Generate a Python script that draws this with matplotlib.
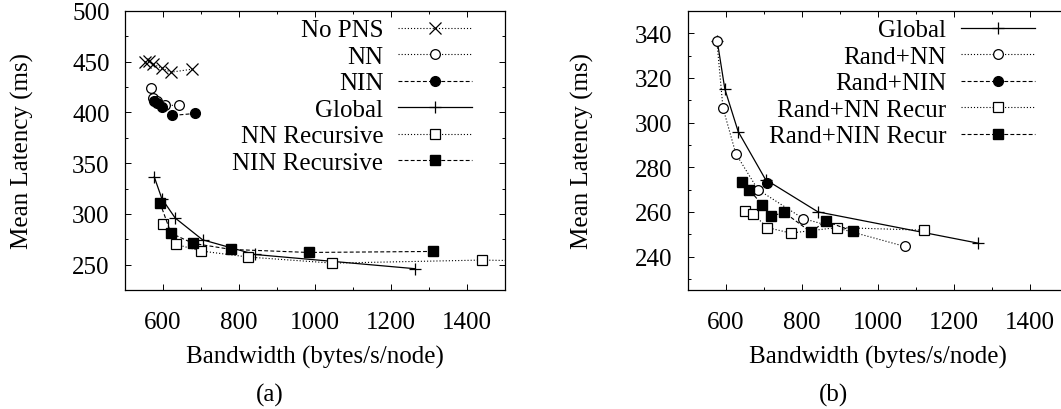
import matplotlib.pyplot as plt
from matplotlib.ticker import MultipleLocator

plt.rcParams['font.family'] = ['Liberation Serif', 'DejaVu Serif']
plt.rcParams['font.size'] = 18

# ---- panel (a) data ----
nopns_x = [553, 563, 574, 597, 621, 676]
nopns_y = [449.6, 450.5, 447.6, 443.6, 439.7, 442.6]

nn_x = [568, 574, 584, 605, 642]
nn_y = [424, 414, 411, 407, 407]

nin_x = [576, 584, 597, 624, 684]
nin_y = [411, 409, 405, 397, 399]

global_x = [577, 597, 632, 704, 842, 1263]
global_y = [336.5, 315, 296, 274.5, 260, 246]

nnrec_x = [599, 634, 699, 824, 1046, 1439, 1600]
nnrec_y = [290, 270, 263.5, 257.5, 251.5, 254.5, 253.5]

ninrec_x = [592, 621, 679, 779, 983, 1311]
ninrec_y = [311, 281, 271, 265, 262, 263]

# ---- panel (b) data ----
rnn_x = [576, 592, 626, 684, 803, 1071]
rnn_y = [336.4, 306.6, 286, 270, 257, 244.5]

rnin_x = [708]
rnin_y = [273]

rnnrec_x = [649, 672, 708, 770, 893, 1120]
rnnrec_y = [260.6, 259, 253, 250.5, 253, 251.8]

rninrec_x = [642, 661, 696, 718, 753, 823, 862, 933]
rninrec_y = [273.4, 270, 263, 258, 259.8, 251, 255.8, 251.4]

DOT = (1, 1.8)
DASH = (3.5, 2)

W, H = 1061, 410
fig = plt.figure(figsize=(W / 100, H / 100), dpi=100)


def make_axes(left_px):
    ax = fig.add_axes([left_px / W, (H - 291) / H, 380 / W, 279 / H])
    ax.set_xlim(500, 1500)
    ax.set_xticks([600, 800, 1000, 1200, 1400])
    ax.xaxis.set_minor_locator(MultipleLocator(100))
    ax.tick_params(which='both', direction='in', top=True, right=True,
                   width=0.7, pad=11)
    ax.tick_params(axis='x', which='major', pad=15)
    ax.tick_params(which='major', length=4)
    ax.tick_params(which='minor', length=2)
    for s in ax.spines.values():
        s.set_linewidth(0.9)
    return ax


def legend(ax):
    ax.legend(loc='upper right', bbox_to_anchor=(0.913, 0.972), frameon=False,
              markerfirst=False, handlelength=2.95, handletextpad=0.6,
              borderpad=0, borderaxespad=0, labelspacing=0.16, fontsize=18)


# ---- (a) ----
ax1 = make_axes(125)
ax1.set_ylim(225, 500)
ax1.yaxis.set_major_locator(MultipleLocator(50))
ax1.yaxis.set_minor_locator(MultipleLocator(25))

ax1.plot(nopns_x, nopns_y, color='k', lw=0.8, dashes=DOT, marker='x',
         ms=8, mew=0.9, label='No PNS')
ax1.plot(nn_x, nn_y, color='k', lw=0.8, dashes=DOT, marker='o', ms=7,
         mfc='white', mew=0.9, label='NN')
ax1.plot(nin_x, nin_y, color='k', lw=0.8, dashes=DASH, marker='o', ms=7,
         label='NIN')
ax1.plot(global_x, global_y, color='k', lw=0.9, marker='+', ms=8, mew=0.9,
         label='Global')
ax1.plot(nnrec_x, nnrec_y, color='k', lw=0.8, dashes=DOT, marker='s', ms=7,
         mfc='white', mew=0.9, label='NN Recursive')
ax1.plot(ninrec_x, ninrec_y, color='k', lw=0.8, dashes=DASH, marker='s',
         ms=7, label='NIN Recursive')
legend(ax1)

# ---- (b) ----
ax2 = make_axes(688)
ax2.set_ylim(225, 350)
ax2.yaxis.set_major_locator(MultipleLocator(20))
ax2.yaxis.set_minor_locator(MultipleLocator(10))

ax2.plot(global_x, global_y, color='k', lw=0.9, marker='+', ms=8, mew=0.9,
         label='Global')
ax2.plot(rnn_x, rnn_y, color='k', lw=0.8, dashes=DOT, marker='o', ms=7,
         mfc='white', mew=0.9, label='Rand+NN')
ax2.plot(rnin_x, rnin_y, color='k', lw=0.8, dashes=DASH, marker='o', ms=7,
         label='Rand+NIN')
ax2.plot(rnnrec_x, rnnrec_y, color='k', lw=0.8, dashes=DOT, marker='s',
         ms=7, mfc='white', mew=0.9, label='Rand+NN Recur')
ax2.plot(rninrec_x, rninrec_y, color='k', lw=0.8, dashes=DASH, marker='s',
         ms=7, label='Rand+NIN Recur')
legend(ax2)

# labels
for cx, ly, tag, tx in [(315, 22, '(a)', 270), (878, 582, '(b)', 833)]:
    fig.text(cx / W, 1 - 357 / H, 'Bandwidth (bytes/s/node)',
             ha='center', va='center')
    fig.text(ly / W, 1 - 151 / H, 'Mean Latency (ms)', rotation=90,
             ha='center', va='center')
    fig.text(tx / W, 1 - 395 / H, tag, ha='center', va='center')

fig.savefig('out.png', dpi=100)
